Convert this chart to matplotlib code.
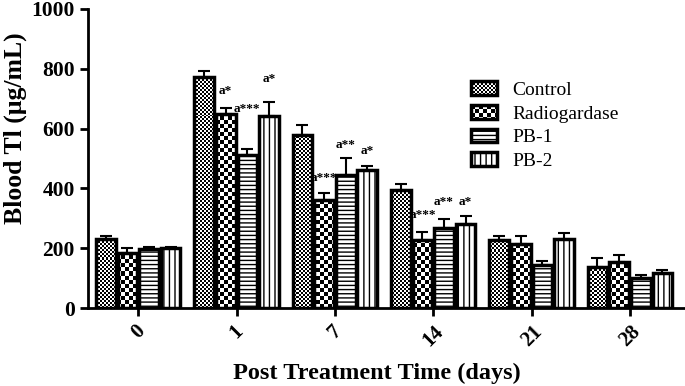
import numpy as np
import matplotlib
matplotlib.use("Agg")
import matplotlib.pyplot as plt
from matplotlib.patches import Rectangle
from matplotlib.legend_handler import HandlerPatch
from matplotlib.image import BboxImage
from matplotlib.transforms import Bbox, TransformedBbox

plt.rcParams["font.family"] = ["Liberation Serif", "DejaVu Serif"]
plt.rcParams["hatch.linewidth"] = 1.0

days = ["0", "1", "7", "14", "21", "28"]
series = ["Control", "Radiogardase", "PB-1", "PB-2"]

control = [231, 772, 578, 393, 228, 138]
control_err = [10, 20, 35, 20, 12, 30]
radiogardase = [184, 650, 360, 228, 215, 153]
radiogardase_err = [15, 18, 25, 25, 25, 25]
pb1 = [197, 512, 445, 268, 145, 100]
pb1_err = [8, 20, 55, 30, 12, 10]
pb2 = [200, 643, 462, 282, 230, 118]
pb2_err = [3, 45, 12, 25, 20, 10]

# (group index, series index, label, y position)
annotations = [
    (1, 1, "a*", 705),
    (1, 2, "a***", 645),
    (1, 3, "a*", 745),
    (2, 1, "a***", 415),
    (2, 2, "a**", 525),
    (2, 3, "a*", 505),
    (3, 1, "a***", 290),
    (3, 2, "a**", 335),
    (3, 3, "a*", 335),
]

values = [control, radiogardase, pb1, pb2]
errors = [control_err, radiogardase_err, pb1_err, pb2_err]
# checker cell size in pixels for textured series, hatch for the others
checker_cells = [2, 4, None, None]
hatches = [None, None, "----", "|||"]


def checker(rows, cols, cell):
    i, j = np.indices((rows, cols))
    return ((i // cell + j // cell) % 2).astype(float)


class CheckerHandler(HandlerPatch):
    def __init__(self, cell):
        super().__init__()
        self.cell = cell

    def create_artists(self, legend, orig_handle, xdescent, ydescent,
                       width, height, fontsize, trans):
        bb = TransformedBbox(Bbox.from_bounds(-xdescent, -ydescent, width, height), trans)
        img = BboxImage(bb, cmap="gray", interpolation="nearest")
        w_px = int(width * 100 / 72) + 1
        h_px = int(height * 100 / 72) + 1
        img.set_data(checker(h_px, w_px, self.cell))
        img.set_clim(0, 1)
        rect = Rectangle((-xdescent, -ydescent), width, height, facecolor="none",
                         edgecolor="black", linewidth=2.5, transform=trans)
        return [img, rect]


fig = plt.figure(figsize=(6.85, 3.86), dpi=100)
ax = fig.add_axes([0.1285, 0.202, 0.87, 0.775])

x = np.arange(len(days))
width = 0.2
step = 0.22
offsets = [-1.5 * step, -0.5 * step, 0.5 * step, 1.5 * step]
xlim = (-0.51, 5.55)
ylim = (0, 1000)
ax_w_px, ax_h_px = 0.87 * 685, 0.775 * 386

handles = []
handler_map = {}
for vals, errs, cell, hatch, off, name in zip(values, errors, checker_cells,
                                              hatches, offsets, series):
    bars = ax.bar(x + off, vals, width, color="white", edgecolor="black",
                  linewidth=2.5, hatch=hatch, zorder=4,
                  fill=(cell is None))
    ax.errorbar(x + off, vals, yerr=[np.zeros(len(errs)), errs], fmt="none",
                ecolor="black", elinewidth=1.5, capsize=4, capthick=1.5, zorder=2)
    proxy = Rectangle((0, 0), 1, 1, facecolor="white", edgecolor="black",
                      linewidth=2.5, hatch=hatch, label=name)
    handles.append(proxy)
    if cell is not None:
        tex = checker(int(ax_h_px) + 1, int(ax_w_px) + 1, cell)
        for b in bars:
            im = ax.imshow(tex, extent=(xlim[0], xlim[1], ylim[0], ylim[1]),
                           cmap="gray", vmin=0, vmax=1, interpolation="nearest",
                           aspect="auto", zorder=3)
            im.set_clip_path(b)
        handler_map[proxy] = CheckerHandler(cell)

for g, s, txt, y in annotations:
    ax.text(x[g] + offsets[s], y, txt, ha="center", va="bottom",
            fontsize=9.5, fontweight="bold")

ax.set_ylim(*ylim)
ax.set_xlim(*xlim)
ax.set_yticks([0, 200, 400, 600, 800, 1000])
ax.set_xticks(x)
ax.set_xticklabels(days, rotation=45, fontweight="bold", fontsize=15)
for lbl in ax.get_yticklabels():
    lbl.set_fontweight("bold")
    lbl.set_fontsize(15.5)

ax.spines["top"].set_visible(False)
ax.spines["right"].set_visible(False)
ax.spines["left"].set_linewidth(2)
ax.spines["bottom"].set_linewidth(2)
ax.tick_params(width=2, length=6)

ax.set_ylabel("Blood Tl (μg/mL)", fontsize=18.5, fontweight="bold")
ax.set_xlabel("Post Treatment Time (days)", fontsize=17.5, fontweight="bold")
ax.yaxis.set_label_coords(-0.102, 0.6)
ax.xaxis.set_label_coords(0.485, -0.184)

ax.legend(handles=handles, handler_map=handler_map, loc="upper left",
          bbox_to_anchor=(0.626, 0.79), frameon=False, borderpad=0,
          fontsize=14, handlelength=1.34, handleheight=0.72,
          labelspacing=0.3, handletextpad=0.8)

plt.savefig("out.png", dpi=100)
